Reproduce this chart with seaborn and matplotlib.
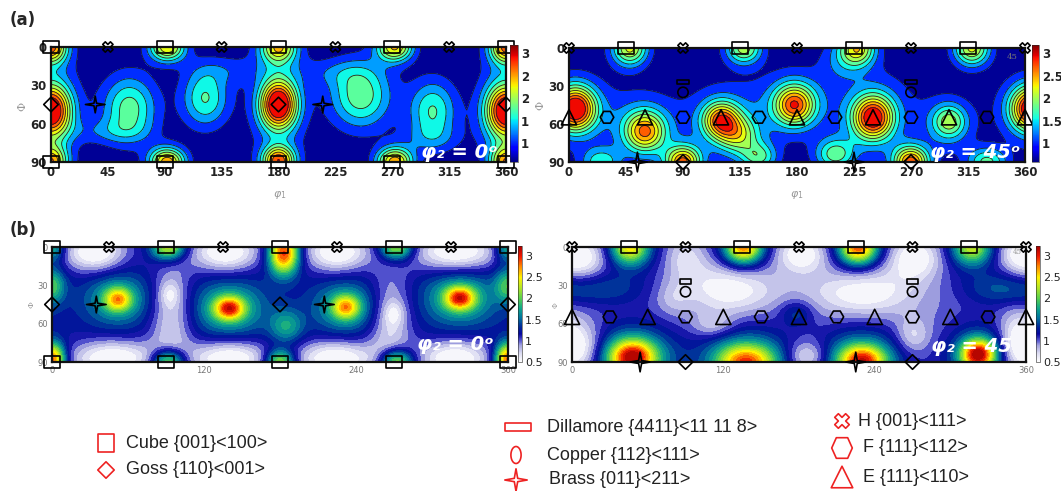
import numpy as np
import matplotlib
matplotlib.use("Agg")
import matplotlib.pyplot as plt
import seaborn as sns
from matplotlib.path import Path
from matplotlib.colors import LinearSegmentedColormap, Normalize
from matplotlib.cm import ScalarMappable

sns.set_theme(style="white")
plt.rcParams["font.family"] = ["DejaVu Sans"]

W, H = 1061, 491
fig = plt.figure(figsize=(W / 100, H / 100), dpi=100)

# ---------------------------------------------------------------------------
# ODF sections: intensity maxima (positive) and minima (negative)
# (phi1, Phi, height, spread_phi1, spread_Phi)
# ---------------------------------------------------------------------------
base_a0 = 0.62
peaks_a0 = [
    (0, 50, 2.35, 11, 14), (0, 0, 1.85, 9, 9), (0, 90, 1.7, 9, 9),
    (180, 45, 2.45, 10, 13), (180, 0, 1.55, 10, 9), (180, 89, 1.95, 9, 8),
    (92, 0, 1.7, 10, 8), (92, 90, 1.9, 10, 8), (272, 0, 1.75, 10, 8), (272, 90, 1.9, 10, 8),
    (62, 48, 1.1, 15, 18), (122, 40, 1.0, 13, 16), (245, 38, 1.15, 17, 18),
    (302, 50, 1.0, 13, 17),
    (0, 45, 0.45, 16, 45), (180, 45, 0.45, 16, 45),
    (45, 66, 0.35, 22, 7), (140, 18, 0.3, 20, 8), (225, 20, 0.3, 22, 8),
    (300, 72, 0.3, 18, 8),
]

base_a45 = 0.62
peaks_a45 = [
    (5, 48, 2.25, 11, 12), (5, 48, 0.5, 20, 20),
    (60, 66, 1.55, 11, 11), (58, 62, 0.55, 20, 20),
    (120, 57, 1.7, 10, 10), (134, 69, 1.0, 11, 10), (125, 58, 0.55, 24, 22),
    (178, 45, 1.75, 11, 11), (178, 42, 0.5, 19, 19),
    (240, 55, 2.1, 11, 12), (240, 52, 0.55, 24, 24),
    (300, 58, 0.9, 9, 9), (300, 60, 0.5, 15, 16),
    (48, 0, 1.55, 10, 10), (138, 0, 1.35, 10, 9), (228, 0, 1.55, 10, 10),
    (215, 10, 0.4, 12, 12), (318, 0, 1.55, 10, 10),
    (90, 90, 1.95, 10, 9), (270, 90, 2.05, 10, 9), (25, 90, 0.85, 11, 8),
    (150, 86, 0.95, 10, 8), (210, 84, 1.05, 11, 9), (330, 90, 1.05, 11, 8),
]

base_b0 = 1.2
peaks_b0 = [
    # low-intensity valleys
    (34, 4, -0.8, 17, 11), (137, 4, -0.8, 19, 11), (225, 4, -0.8, 18, 11), (319, 4, -0.8, 24, 11),
    (48, 87, -0.8, 24, 10), (140, 87, -0.8, 22, 10), (224, 87, -0.8, 22, 10), (318, 87, -0.8, 20, 10),
    (94, 55, -0.5, 12, 32), (93, 37, -0.3, 6, 7), (267, 60, -0.5, 12, 30), (270, 52, -0.3, 6, 7),
    # maxima
    (140, 48, 1.3, 8, 6), (140, 48, 0.65, 20, 15), (322, 40, 1.3, 8, 6), (322, 40, 0.65, 20, 15),
    (52, 41, 1.0, 7, 6), (52, 41, 0.6, 18, 14), (232, 47, 1.0, 7, 6), (232, 47, 0.6, 18, 14),
    (183, 5, 1.8, 8, 11), (92, 0, 1.2, 9, 7), (272, 0, 1.1, 9, 7), (0, 0, 0.8, 7, 9),
    (0, 88, 1.8, 7, 9), (92, 90, 1.2, 9, 7), (180, 90, 1.1, 8, 7), (272, 90, 1.2, 9, 7),
    (0, 30, 0.7, 7, 9), (185, 62, 0.55, 9, 9),
]

base_b45 = 0.9
peaks_b45 = [
    # low-intensity valleys
    (8, 8, -0.55, 14, 12), (90, 8, -0.3, 12, 12), (128, 32, -0.6, 24, 15), (182, 5, -0.55, 14, 10),
    (230, 35, -0.6, 26, 14), (272, 8, -0.55, 15, 12), (350, 5, -0.3, 10, 10),
    (8, 80, -0.55, 12, 14), (112, 62, -0.3, 12, 7), (186, 86, -0.55, 12, 9),
    (270, 70, -0.35, 10, 10), (352, 75, -0.55, 10, 16), (80, 40, -0.2, 10, 10),
    # dark bands
    (20, 33, 0.35, 24, 9), (340, 33, 0.35, 20, 9), (178, 52, 0.35, 9, 7),
    # maxima
    (46, 0, 1.2, 10, 9), (46, 0, 0.4, 22, 22), (136, 0, 1.5, 10, 9), (136, 0, 0.4, 22, 24),
    (227, 0, 1.6, 10, 9), (227, 0, 0.4, 22, 24), (317, 0, 1.0, 10, 9), (317, 0, 0.4, 22, 22),
    (48, 86, 1.4, 12, 9), (48, 88, 0.7, 22, 16), (48, 88, 0.3, 32, 30),
    (138, 90, 1.1, 15, 9), (138, 90, 0.65, 24, 16), (138, 90, 0.3, 32, 30),
    (230, 89, 1.3, 12, 8), (230, 90, 0.65, 22, 16), (230, 90, 0.3, 32, 30),
    (322, 84, 1.7, 9, 8), (322, 86, 0.4, 18, 16), (322, 86, 0.3, 22, 26),
]

# ---------------------------------------------------------------------------
# Ideal texture components (phi1, Phi)
# ---------------------------------------------------------------------------
cube_0 = [(0, 0), (90, 0), (180, 0), (270, 0), (360, 0),
          (0, 90), (90, 90), (180, 90), (270, 90), (360, 90)]
goss_0 = [(0, 45), (180, 45), (360, 45)]
brass_0 = [(35, 45), (215, 45)]
h_0 = [(45, 0), (135, 0), (225, 0), (315, 0)]

h_45 = [(0, 0), (90, 0), (180, 0), (270, 0), (360, 0)]
cube_45 = [(45, 0), (135, 0), (225, 0), (315, 0)]
dillamore_45 = [(90, 27), (270, 27)]
copper_45 = [(90, 35), (270, 35)]
f_45 = [(30, 54.7), (90, 54.7), (150, 54.7), (210, 54.7), (270, 54.7), (330, 54.7)]
e_45 = [(0, 54.7), (60, 54.7), (120, 54.7), (180, 54.7), (240, 54.7), (300, 54.7), (360, 54.7)]
goss_45 = [(90, 90), (270, 90)]
brass_45 = [(54, 90), (225, 90)]

phi1_ticks_a = [0, 45, 90, 135, 180, 225, 270, 315, 360]
phi1_ticks_b = [0, 120, 240, 360]
Phi_ticks = [0, 30, 60, 90]
cbar_ticks_a = [1, 1.5, 2, 2.5, 3]
cbar_labels_a0 = ["1", "1", "2", "2", "3"]
cbar_labels_a45 = ["1", "1.5", "2", "2.5", "3"]
cbar_ticks_b = [0.5, 1, 1.5, 2, 2.5, 3]
cbar_labels_b = ["0.5", "1", "1.5", "2", "2.5", "3"]

legend_items = [
    ("Cube {001}<100>", "cube"), ("Goss {110}<001>", "goss"),
    ("Dillamore {4411}<11 11 8>", "dillamore"), ("Copper {112}<111>", "copper"),
    ("Brass {011}<211>", "brass"), ("H {001}<111>", "h"),
    ("F {111}<112>", "f"), ("E {111}<110>", "e"),
]

# ---------------------------------------------------------------------------
phi1_grid = np.linspace(0, 360, 361)
Phi_grid = np.linspace(0, 90, 181)
P1, P2 = np.meshgrid(phi1_grid, Phi_grid)


def odf_field(base, peaks):
    z = np.full(P1.shape, float(base))
    for c1, c2, h, s1, s2 in peaks:
        d1 = (P1 - c1 + 180) % 360 - 180
        z += h * np.exp(-0.5 * ((d1 / s1) ** 2 + ((P2 - c2) / s2) ** 2))
    return z


def px_axes(x0, y0, x1, y1):
    return fig.add_axes([x0 / W, 1 - y1 / H, (x1 - x0) / W, (y1 - y0) / H])


def closed(verts):
    verts = list(verts) + [verts[0]]
    codes = [Path.MOVETO] + [Path.LINETO] * (len(verts) - 2) + [Path.CLOSEPOLY]
    return Path(verts, codes)


rect_mk = closed([(-1, -0.75), (1, -0.75), (1, 0.75), (-1, 0.75)])
square_mk = closed([(-0.95, -1), (0.95, -1), (0.95, 1), (-0.95, 1)])
flat_mk = closed([(-1, -0.35), (1, -0.35), (1, 0.35), (-1, 0.35)])
star_mk = closed([(1, 0), (0.13, 0.13), (0, 0.85), (-0.13, 0.13), (-1, 0),
                  (-0.13, -0.13), (0, -0.85), (0.13, -0.13)])
star_leg = closed([(1, 0), (0.15, 0.15), (0, 1), (-0.15, 0.15), (-1, 0),
                   (-0.15, -0.15), (0, -1), (0.15, -0.15)])
t = np.linspace(0, 2 * np.pi, 40, endpoint=False)
ellipse_mk = closed(list(zip(0.6 * np.cos(t), np.sin(t))))
hex_leg = closed([(1, 0), (0.55, 1), (-0.55, 1), (-1, 0), (-0.55, -1), (0.55, -1)])


def draw_markers(ax, pts, marker, s, color="black", lw=1.2):
    xs = [p[0] for p in pts]
    ys = [p[1] for p in pts]
    sns.scatterplot(x=xs, y=ys, ax=ax, marker=marker, s=s, facecolor="none",
                    edgecolor=color, linewidth=lw, clip_on=False, zorder=6,
                    legend=False)


jet = matplotlib.colormaps["jet"]
band_pos = [0.02, 0.17, 0.28, 0.37, 0.46, 0.55, 0.63, 0.72, 0.81, 0.9]
band_colors_a = [jet(p) for p in band_pos]
levels_a = [0.0, 0.85, 1.1, 1.35, 1.6, 1.85, 2.1, 2.35, 2.6, 2.85, 5.0]

cmap_b = LinearSegmentedColormap.from_list("odf_b", [
    (0.0, (1, 1, 1)), (0.07, (0.87, 0.87, 0.95)), (0.14, (0.65, 0.65, 0.88)),
    (0.19, (0.3, 0.3, 0.8)), (0.24, (0.02, 0.02, 0.62)), (0.30, (0.0, 0.15, 0.6)),
    (0.38, (0.0, 0.45, 0.62)), (0.46, (0.05, 0.65, 0.55)), (0.55, (0.35, 0.82, 0.3)),
    (0.64, (0.7, 0.9, 0.15)), (0.73, (1.0, 0.95, 0.0)), (0.82, (1.0, 0.55, 0.0)),
    (0.91, (0.95, 0.1, 0.0)), (1.0, (0.65, 0.0, 0.0))])
levels_b = np.linspace(0.5, 3.23, 25)


def style_axes(ax, xticks, bold):
    ax.set_xlim(0, 360)
    ax.set_ylim(90, 0)
    ax.set_xticks(xticks)
    ax.set_yticks(Phi_ticks)
    if bold:
        ax.tick_params(labelsize=8.5, colors="#222222", length=2, direction="in", pad=3)
        for lab in ax.get_xticklabels() + ax.get_yticklabels():
            lab.set_fontweight("bold")
    else:
        ax.tick_params(labelsize=6, colors="#777777", length=0, pad=3)
    for sp in ax.spines.values():
        sp.set_visible(True)
        sp.set_color("#111111")
        sp.set_linewidth(1.6)
    ax.set_xlabel("")
    ax.set_ylabel("")


def add_cbar(box, cmap, vmin, vmax, ticks, labels, bold):
    cax = px_axes(*box)
    cb = fig.colorbar(ScalarMappable(norm=Normalize(vmin, vmax), cmap=cmap), cax=cax)
    cb.set_ticks(ticks)
    cb.set_ticklabels(labels)
    cb.outline.set_linewidth(0.4)
    cax.tick_params(length=0, pad=2, labelsize=8.5 if bold else 8,
                    colors="#222222")
    if bold:
        for lab in cax.get_yticklabels():
            lab.set_fontweight("bold")


def draw_phi2_0(ax):
    draw_markers(ax, cube_0, rect_mk, 130)
    draw_markers(ax, goss_0, "D", 55)
    draw_markers(ax, brass_0, star_mk, 200)
    draw_markers(ax, h_0, "X", 55)


def draw_phi2_45(ax):
    draw_markers(ax, h_45, "X", 55)
    draw_markers(ax, cube_45, rect_mk, 130)
    draw_markers(ax, dillamore_45, flat_mk, 70)
    draw_markers(ax, copper_45, "o", 55)
    draw_markers(ax, f_45, "H", 95)
    draw_markers(ax, e_45, "^", 120)
    draw_markers(ax, goss_45, "D", 55)
    draw_markers(ax, brass_45, star_leg, 200)


def contour_a(ax, base, peaks):
    Z = odf_field(base, peaks)
    ax.contourf(P1, P2, Z, levels=levels_a, colors=band_colors_a)
    ax.contour(P1, P2, Z, levels=levels_a[1:-1], colors="#202020", linewidths=0.6)


def contour_b(ax, base, peaks):
    Z = odf_field(base, peaks)
    ax.contourf(P1, P2, np.clip(Z, 0.5, 3.23), levels=levels_b, cmap=cmap_b,
                norm=Normalize(0.5, 3.23))


# ----------------------------- (a) phi2 = 0 --------------------------------
ax = px_axes(51, 47, 506, 162)
contour_a(ax, base_a0, peaks_a0)
draw_phi2_0(ax)
style_axes(ax, phi1_ticks_a, True)
add_cbar((510, 45, 518, 162), jet, 0.58, 3.18, cbar_ticks_a, cbar_labels_a0, True)

# ----------------------------- (a) phi2 = 45 -------------------------------
ax = px_axes(569, 48, 1025, 162)
contour_a(ax, base_a45, peaks_a45)
draw_phi2_45(ax)
style_axes(ax, phi1_ticks_a, True)
add_cbar((1032, 45, 1039, 162), jet, 0.58, 3.18, cbar_ticks_a, cbar_labels_a45, True)

# ----------------------------- (b) phi2 = 0 --------------------------------
ax = px_axes(52, 247, 508, 362)
contour_b(ax, base_b0, peaks_b0)
draw_phi2_0(ax)
style_axes(ax, phi1_ticks_b, False)
add_cbar((518, 246, 522, 362), cmap_b, 0.5, 3.23, cbar_ticks_b, cbar_labels_b, False)

# ----------------------------- (b) phi2 = 45 -------------------------------
ax = px_axes(572, 247, 1026, 362)
contour_b(ax, base_b45, peaks_b45)
draw_phi2_45(ax)
style_axes(ax, phi1_ticks_b, False)
add_cbar((1036, 246, 1040, 362), cmap_b, 0.5, 3.23, cbar_ticks_b, cbar_labels_b, False)

# --------------------------- annotations -----------------------------------
ov = fig.add_axes([0, 0, 1, 1])
ov.axis("off")

ov.text(10, 20, "(a)", fontsize=12, fontweight="bold", va="center", ha="left")
ov.text(10, 230, "(b)", fontsize=12, fontweight="bold", va="center", ha="left")
for x in (280, 797):
    ov.text(x, 195, r"$\varphi_1$", fontsize=8, color="#999999", ha="center",
            va="center", family="serif")
for x, y, fs in ((22, 106, 8), (540, 105, 8), (32, 305, 6), (556, 305, 5)):
    ov.text(x, y, "Φ", fontsize=fs, color="#999999", ha="center", va="center",
            rotation=90, family="serif")
ov.text(1018, 57, "45", fontsize=6, color="#777777", ha="right", va="center", family="serif")
ov.text(1022, 252, "45", fontsize=5, color="#999999", ha="right", va="center", family="serif")
ov.text(498, 153, "φ₂ = 0ᵒ", color="white", fontsize=14, fontweight="bold",
        style="italic", ha="right", va="center")
ov.text(1020, 153, "φ₂ = 45ᵒ", color="white", fontsize=14, fontweight="bold",
        style="italic", ha="right", va="center")
ov.text(494, 345, "φ₂ = 0ᵒ", color="white", fontsize=14, fontweight="bold",
        style="italic", ha="right", va="center")
ov.text(1012, 347, "φ₂ = 45", color="white", fontsize=14, fontweight="bold",
        style="italic", ha="right", va="center")

# legend of texture components
red = "#ee2222"
leg_marker = {"cube": (square_mk, 160), "goss": ("D", 70), "dillamore": (flat_mk, 330),
              "copper": (ellipse_mk, 150), "brass": (star_leg, 260), "h": ("X", 110),
              "f": (hex_leg, 220), "e": ("^", 240)}
leg_marker_pos = {"cube": (106, 443), "goss": (106, 470), "dillamore": (518, 427),
                  "copper": (516, 455), "brass": (516, 480), "h": (842, 421),
                  "f": (842, 448), "e": (842, 477)}
leg_text_x = {"cube": 126, "goss": 126, "dillamore": 547, "copper": 547, "brass": 549,
              "h": 858, "f": 863, "e": 863}
for label, key in legend_items:
    mk, s = leg_marker[key]
    mx, my = leg_marker_pos[key]
    draw_markers(ov, [(mx, my)], mk, s, color=red, lw=1.2)
    ov.text(leg_text_x[key], my, label, fontsize=13, family="Liberation Sans",
            color="#222222", ha="left", va="center")
ov.set_xlim(0, W)
ov.set_ylim(H, 0)

fig.savefig("out.png", dpi=100)
